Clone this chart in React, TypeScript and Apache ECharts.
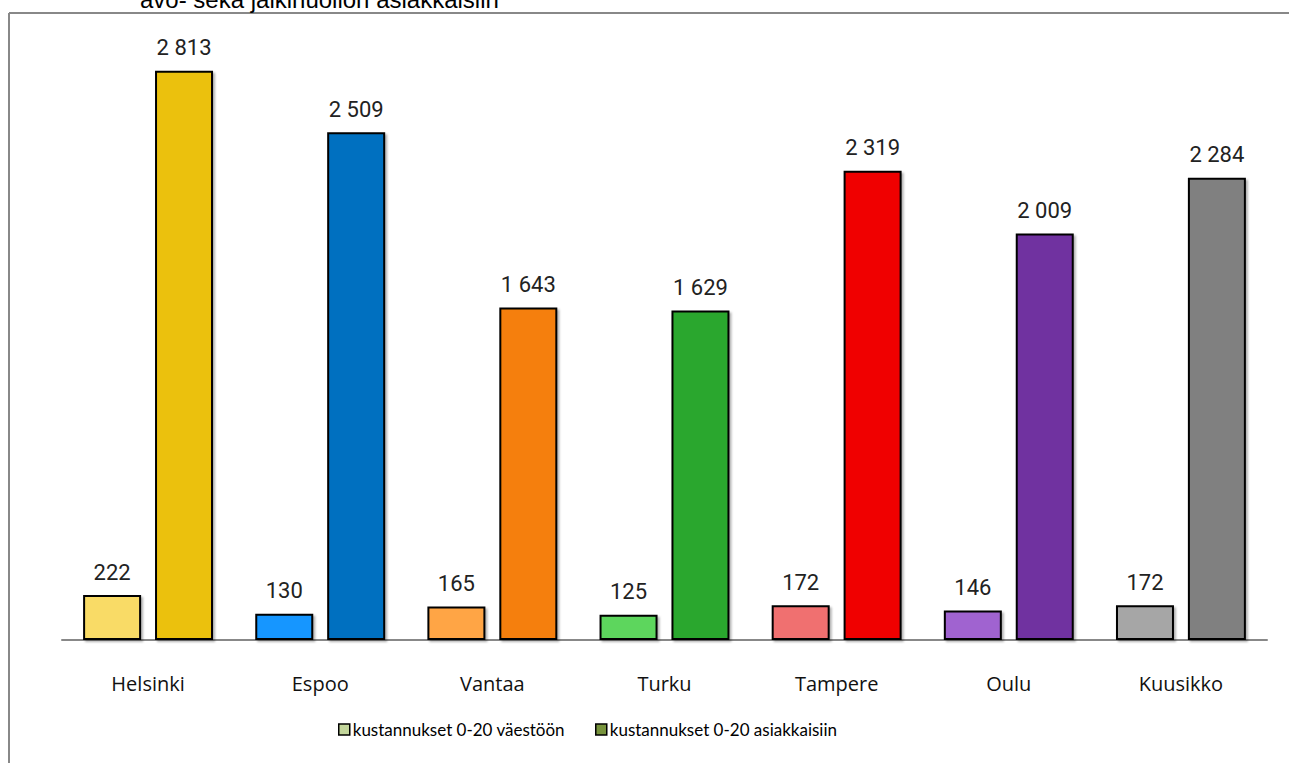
import React, { useEffect, useRef } from "react";
import * as echarts from "echarts";

const categories = ["Helsinki", "Espoo", "Vantaa", "Turku", "Tampere", "Oulu", "Kuusikko"];
const populationCosts = [222, 130, 165, 125, 172, 146, 172];
const clientCosts = [2813, 2509, 1643, 1629, 2319, 2009, 2284];
const seriesNames = ["kustannukset 0-20 väestöön", "kustannukset 0-20 asiakkaisiin"];
const titleText = "avo- sekä jälkihuollon asiakkaisiin";

const lightColors = ["#F9DB66", "#1596FF", "#FFA545", "#5DD65D", "#F07070", "#A064D0", "#A6A6A6"];
const darkColors = ["#EBC10A", "#0070C0", "#F57F0A", "#2AA72F", "#F00000", "#7030A0", "#808080"];

const fmt = (v: number) => {
  const s = String(Math.round(v));
  return s.replace(/\B(?=(\d{3})+(?!\d))/g, " ");
};

export default function App() {
  const ref = useRef<HTMLDivElement>(null);
  useEffect(() => {
    if (!ref.current) return;
    const chart = echarts.init(ref.current, null, { renderer: "svg" });
    const barStyle = {
      borderColor: "#000",
      borderWidth: 2,
      shadowColor: "rgba(0,0,0,0.3)",
      shadowOffsetX: 2,
      shadowOffsetY: 2,
      shadowBlur: 2,
    };
    const label = {
      show: true,
      position: "top",
      distance: 12,
      fontFamily: "Roboto",
      fontSize: 22,
      color: "#222",
      formatter: (p: any) => fmt(p.value),
    };
    chart.setOption({
      animation: false,
      backgroundColor: "#fff",
      graphic: [
        {
          type: "line",
          shape: { x1: 9, y1: 13, x2: 1289, y2: 13 },
          style: { stroke: "#888", lineWidth: 2 },
        },
        {
          type: "line",
          shape: { x1: 9, y1: 13, x2: 9, y2: 763 },
          style: { stroke: "#888", lineWidth: 2 },
        },
        {
          type: "text",
          x: 140,
          y: 11,
          style: {
            text: titleText,
            fontFamily: "Liberation Sans",
            fontSize: 24,
            fill: "#000",
            verticalAlign: "bottom",
          },
        },
      ],
      grid: { left: 62, right: 22, top: 33, bottom: 123, containLabel: false },
      legend: {
        bottom: 20,
        left: 333,
        itemWidth: 11,
        itemHeight: 11,
        itemGap: 30,
        icon: "rect",
        textStyle: { fontFamily: "Lato", fontSize: 17, color: "#000", padding: [0, 0, 0, -2] },
        itemStyle: { borderColor: "#000", borderWidth: 1.5 },
        data: seriesNames,
      },
      xAxis: {
        type: "category",
        data: categories,
        axisLine: { lineStyle: { color: "#888", width: 2 } },
        axisTick: { show: false },
        axisLabel: { margin: 33, fontFamily: "Open Sans", fontSize: 20, color: "#111" },
      },
      yAxis: {
        type: "value",
        min: 0,
        max: 3000,
        show: false,
        splitLine: { show: false },
      },
      series: [
        {
          name: seriesNames[0],
          type: "bar",
          barWidth: 58,
          barGap: "24%",
          itemStyle: { color: "#C3D69B", ...barStyle },
          label,
          data: populationCosts.map((v, i) => ({ value: v, itemStyle: { color: lightColors[i] } })),
        },
        {
          name: seriesNames[1],
          type: "bar",
          barWidth: 58,
          barGap: "24%",
          itemStyle: { color: "#77933C", ...barStyle },
          label,
          data: clientCosts.map((v, i) => ({ value: v, itemStyle: { color: darkColors[i] } })),
        },
      ],
    });
    return () => chart.dispose();
  }, []);
  return <div ref={ref} style={{ width: 1289, height: 763, position: "absolute", left: 0, top: 0 }} />;
}
